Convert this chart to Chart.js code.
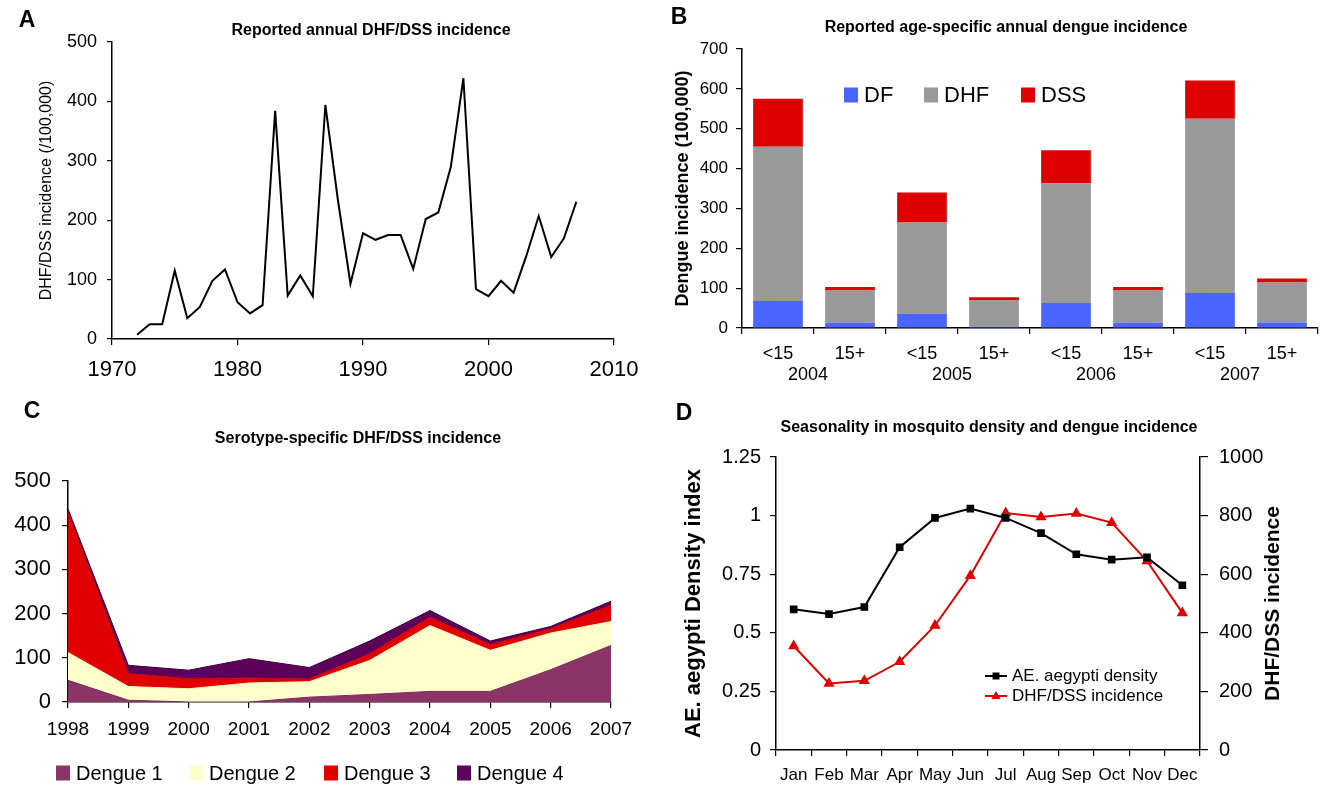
<!DOCTYPE html>
<html>
<head>
<meta charset="utf-8">
<script src="https://cdn.jsdelivr.net/npm/chart.js@4.4.1/dist/chart.umd.min.js"></script>
<style>
    body { margin: 0; background: #fff; }
    #page { position: relative; width: 1323px; height: 785px; overflow: hidden; font-family: 'Liberation Sans', Arial, sans-serif; color: #000; }
    canvas { position: absolute; }
    .letter { position: absolute; font-weight: bold; font-size: 23px; line-height: 23px; transform: translate(-50%, -50%); }
    .title { position: absolute; font-weight: bold; font-size: 16px; line-height: 16px; white-space: nowrap; transform: translate(-50%, -50%); }
</style>
</head>
<body>
<div id="page">
    <canvas id="chartA" width="660" height="390" style="left:0;top:0"></canvas>
    <canvas id="chartB" width="663" height="390" style="left:660px;top:0"></canvas>
    <canvas id="chartC" width="660" height="395" style="left:0;top:390px"></canvas>
    <canvas id="chartD" width="663" height="395" style="left:660px;top:390px"></canvas>

    <div class="letter" style="left:27px;top:19px">A</div>
    <div class="letter" style="left:679px;top:16px">B</div>
    <div class="letter" style="left:32px;top:410px">C</div>
    <div class="letter" style="left:684px;top:412px">D</div>

    <div class="title" style="left:371px;top:30px">Reported annual DHF/DSS incidence</div>
    <div class="title" style="left:1006px;top:27px">Reported age-specific annual dengue incidence</div>
    <div class="title" style="left:358px;top:438px">Serotype-specific DHF/DSS incidence</div>
    <div class="title" style="left:989px;top:427px">Seasonality in mosquito density and dengue incidence</div>
</div>

<script>
// Panel A data
const yearsA = [1972, 1973, 1974, 1975, 1976, 1977, 1978, 1979, 1980, 1981, 1982, 1983,
    1984, 1985, 1986, 1987, 1988, 1989, 1990, 1991, 1992, 1993, 1994, 1995,
    1996, 1997, 1998, 1999, 2000, 2001, 2002, 2003, 2004, 2005, 2006, 2007];
const incidenceA = [7, 25, 25, 115, 35, 54, 98, 117, 62, 43, 57, 384,
    73, 107, 72, 394, 234, 93, 178, 167, 175, 175, 118, 202,
    213, 290, 439, 84, 72, 98, 78, 139, 207, 138, 169, 231];

// Panel B data
const ageGroups = ['<15', '15+', '<15', '15+', '<15', '15+', '<15', '15+'];
const yearsB = ['2004', '2005', '2006', '2007'];
const dfB = [68, 13, 36, 4, 63, 13, 88, 14];
const dhfB = [387, 81, 229, 65, 300, 81, 437, 100];
const dssB = [120, 9, 75, 8, 83, 9, 96, 10];

// Panel C data
const yearsC = ['1998', '1999', '2000', '2001', '2002', '2003', '2004', '2005', '2006', '2007'];
const dengue1 = [49, 4, 0, 0, 11, 17, 24, 24, 73, 128];
const dengue2 = [63, 31, 30, 43, 35, 77, 149, 93, 83, 54];
const dengue3 = [318, 29, 23, 11, 6, 15, 19, 13, 10, 37];
const dengue4 = [7, 19, 19, 44, 26, 29, 15, 8, 5, 9];

// Panel D data
const months = ['Jan', 'Feb', 'Mar', 'Apr', 'May', 'Jun', 'Jul', 'Aug', 'Sep', 'Oct', 'Nov', 'Dec'];
const densityD = [0.60, 0.58, 0.61, 0.865, 0.99, 1.03, 0.99, 0.925, 0.835, 0.812, 0.822, 0.703];
const incidenceD = [355, 227, 236, 301, 425, 595, 809, 795, 807, 776, 645, 468];

Chart.defaults.font.family = "'Liberation Sans', Arial, sans-serif";
Chart.defaults.color = '#000';
Chart.defaults.animation = false;
Chart.defaults.plugins.legend.display = false;
Chart.defaults.plugins.tooltip.enabled = false;

function fixWidth(w) {
    return function (scale) { scale.width = w; };
}

function fixHeight(h) {
    return function (scale) { scale.height = h; };
}

function axisGrid(len, offset) {
    return { display: true, drawOnChartArea: false, drawTicks: true, tickLength: len, color: '#000', lineWidth: 1.2, offset: !!offset };
}

const axisBorder = { display: true, color: '#000', width: 1.5 };

// legend drawn inside the canvas at fixed spots
function makeLegend(cfg) {
    return {
        id: 'insideLegend',
        afterDraw(chart) {
            const ctx = chart.ctx;
            ctx.save();
            ctx.font = cfg.font;
            ctx.textBaseline = 'middle';
            chart.data.datasets.forEach(function (ds, i) {
                const x = cfg.spots[i][0];
                const y = cfg.spots[i][1];
                if (cfg.kind === 'line') {
                    ctx.strokeStyle = ds.borderColor;
                    ctx.lineWidth = 2;
                    ctx.beginPath();
                    ctx.moveTo(x, y);
                    ctx.lineTo(x + cfg.lineLen, y);
                    ctx.stroke();
                    ctx.fillStyle = ds.borderColor;
                    const cx = x + cfg.lineLen / 2;
                    if (ds.pointStyle === 'rect') {
                        ctx.fillRect(cx - 3.5, y - 3.5, 7, 7);
                    } else {
                        ctx.beginPath();
                        ctx.moveTo(cx, y - 5);
                        ctx.lineTo(cx + 4.5, y + 3);
                        ctx.lineTo(cx - 4.5, y + 3);
                        ctx.closePath();
                        ctx.fill();
                    }
                    ctx.fillStyle = '#000';
                    ctx.fillText(ds.label, x + cfg.lineLen + cfg.gap, y);
                } else {
                    ctx.fillStyle = ds.backgroundColor;
                    ctx.fillRect(x, y - cfg.boxH / 2, cfg.boxW, cfg.boxH);
                    ctx.fillStyle = '#000';
                    ctx.fillText(ds.label, x + cfg.boxW + cfg.gap, y + 1);
                }
            });
            ctx.restore();
        }
    };
}

// rotated title that reads bottom-to-top on the right side
function makeSideTitle(text, x, font) {
    return {
        id: 'sideTitle',
        afterDraw(chart) {
            const ctx = chart.ctx;
            const area = chart.chartArea;
            ctx.save();
            ctx.font = font;
            ctx.fillStyle = '#000';
            ctx.textAlign = 'center';
            ctx.textBaseline = 'middle';
            ctx.translate(x, (area.top + area.bottom) / 2);
            ctx.rotate(-Math.PI / 2);
            ctx.fillText(text, 0, 0);
            ctx.restore();
        }
    };
}

// A: annual incidence line
new Chart(document.getElementById('chartA'), {
    type: 'line',
    data: {
        datasets: [{
            data: yearsA.map(function (y, i) { return { x: y, y: incidenceA[i] }; }),
            borderColor: '#000',
            borderWidth: 2,
            pointRadius: 0,
            tension: 0
        }]
    },
    options: {
        responsive: false,
        layout: { padding: { top: 42, right: 46, left: 0, bottom: 0 } },
        scales: {
            x: {
                type: 'linear', min: 1970, max: 2010,
                ticks: { stepSize: 10, font: { size: 22 }, padding: 12, callback: function (v) { return String(v); } },
                grid: axisGrid(6), border: axisBorder,
                afterFit: fixHeight(51)
            },
            y: {
                min: 0, max: 500,
                ticks: { stepSize: 100, font: { size: 18 }, padding: 10 },
                grid: axisGrid(5), border: axisBorder,
                title: { display: true, text: 'DHF/DSS incidence (/100,000)', font: { size: 16 }, padding: { top: 37 } },
                afterFit: fixWidth(112)
            }
        }
    }
});

// B: age-specific stacked bars
new Chart(document.getElementById('chartB'), {
    type: 'bar',
    data: {
        labels: ageGroups,
        datasets: [
            { label: 'DF', data: dfB, backgroundColor: '#4a64ff' },
            { label: 'DHF', data: dhfB, backgroundColor: '#999999' },
            { label: 'DSS', data: dssB, backgroundColor: '#dd0000' }
        ]
    },
    options: {
        responsive: false,
        layout: { padding: { top: 49, right: 5, left: 0, bottom: 0 } },
        datasets: { bar: { barPercentage: 0.69, categoryPercentage: 1, borderWidth: 0 } },
        scales: {
            x: {
                stacked: true, offset: true, weight: 0,
                ticks: { font: { size: 18 }, padding: 9, maxRotation: 0 },
                grid: axisGrid(6, true), border: axisBorder,
                afterFit: fixHeight(36)
            },
            x2: {
                type: 'category', labels: yearsB, position: 'bottom', offset: true, weight: 1,
                ticks: { font: { size: 18 }, padding: 0, maxRotation: 0, labelOffset: -6 },
                grid: { display: false, drawTicks: false }, border: { display: false },
                afterFit: fixHeight(26)
            },
            y: {
                stacked: true, min: 0, max: 700,
                ticks: { stepSize: 100, font: { size: 17 }, padding: 8 },
                grid: axisGrid(6), border: axisBorder,
                title: { display: true, text: 'Dengue incidence (100,000)', font: { size: 18, weight: 'bold' }, padding: { top: 12 } },
                afterFit: fixWidth(82)
            }
        }
    },
    plugins: [makeLegend({ kind: 'box', font: '22px "Liberation Sans", Arial, sans-serif', boxW: 14, boxH: 15, gap: 6,
        spots: [[184, 95], [264, 95], [361, 95]] })]
});

// C: serotype stacked area
new Chart(document.getElementById('chartC'), {
    type: 'line',
    data: {
        labels: yearsC,
        datasets: [
            { label: 'Dengue 1', data: dengue1, backgroundColor: '#8a3468', borderColor: '#7a2a5a', fill: 'origin' },
            { label: 'Dengue 2', data: dengue2, backgroundColor: '#ffffcc', borderColor: '#f0f0b8', fill: '-1' },
            { label: 'Dengue 3', data: dengue3, backgroundColor: '#e00000', borderColor: '#cc0000', fill: '-1' },
            { label: 'Dengue 4', data: dengue4, backgroundColor: '#5c005c', borderColor: '#3a003a', fill: '-1' }
        ]
    },
    options: {
        responsive: false,
        layout: { padding: { top: 91, right: 49, left: 0, bottom: 0 } },
        elements: { line: { borderWidth: 1, tension: 0 }, point: { radius: 0 } },
        scales: {
            x: {
                offset: false,
                ticks: { font: { size: 19 }, padding: 10, maxRotation: 0, autoSkip: false },
                grid: axisGrid(6, false), border: axisBorder,
                afterFit: fixHeight(83)
            },
            y: {
                stacked: true, min: 0, max: 500,
                ticks: { stepSize: 100, font: { size: 22 }, padding: 11 },
                grid: axisGrid(6), border: axisBorder,
                afterFit: fixWidth(68)
            }
        }
    },
    plugins: [makeLegend({ kind: 'box', font: '20px "Liberation Sans", Arial, sans-serif', boxW: 14, boxH: 15, gap: 6,
        spots: [[56, 383], [189, 383], [324, 383], [457, 383]] })]
});

// D: seasonality, two y axes
new Chart(document.getElementById('chartD'), {
    type: 'line',
    data: {
        labels: months,
        datasets: [
            { label: 'AE. aegypti density', data: densityD, yAxisID: 'y', borderColor: '#000', backgroundColor: '#000',
              pointStyle: 'rect', pointRadius: 4, borderWidth: 2 },
            { label: 'DHF/DSS incidence', data: incidenceD, yAxisID: 'y1', borderColor: '#e00000', backgroundColor: '#e00000',
              pointStyle: 'triangle', pointRadius: 4.5, borderWidth: 2 }
        ]
    },
    options: {
        responsive: false,
        layout: { padding: { top: 67, right: 0, left: 0, bottom: 0 } },
        elements: { line: { tension: 0 } },
        scales: {
            x: {
                offset: true,
                ticks: { font: { size: 17 }, padding: 9, maxRotation: 0, autoSkip: false },
                grid: axisGrid(6, true), border: axisBorder,
                afterFit: fixHeight(35)
            },
            y: {
                position: 'left', min: 0, max: 1.25,
                ticks: { stepSize: 0.25, font: { size: 20 }, padding: 9, callback: function (v) { return String(Math.round(v * 100) / 100); } },
                grid: axisGrid(6), border: axisBorder,
                title: { display: true, text: 'AE. aegypti Density index', font: { size: 22, weight: 'bold' }, padding: { top: 21 } },
                afterFit: fixWidth(116)
            },
            y1: {
                position: 'right', min: 0, max: 1000,
                ticks: { stepSize: 200, font: { size: 20 }, padding: 11, callback: function (v) { return String(v); } },
                grid: axisGrid(8), border: axisBorder,
                afterFit: fixWidth(123)
            }
        }
    },
    plugins: [
        makeLegend({ kind: 'line', font: '17px "Liberation Sans", Arial, sans-serif', lineLen: 22, gap: 5,
            spots: [[325, 286], [325, 306]] }),
        makeSideTitle('DHF/DSS incidence', 613, 'bold 21px "Liberation Sans", Arial, sans-serif')
    ]
});
</script>
</body>
</html>
